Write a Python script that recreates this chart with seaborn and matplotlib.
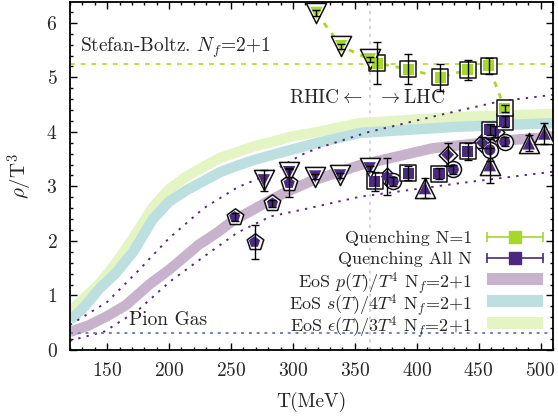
import numpy as np
import pandas as pd
import matplotlib
matplotlib.use("Agg")
import matplotlib.pyplot as plt
import seaborn as sns
from matplotlib.patches import Rectangle
from matplotlib.ticker import MultipleLocator

# lattice EoS bands
p_T = [120, 135, 150, 165, 184, 200, 211, 224, 238, 251, 262, 282, 295, 314, 354, 413, 470, 510]
p_val = [0.33, 0.45, 0.62, 0.82, 1.20, 1.47, 1.68, 1.93, 2.14, 2.36, 2.50, 2.75, 2.90, 3.09, 3.39, 3.70, 3.84, 3.91]

s_T = [120, 130, 144, 157, 171, 187, 200, 214, 228, 241, 255, 268, 282, 300, 320, 354, 430, 510]
s_val = [0.55, 0.75, 1.13, 1.41, 1.80, 2.40, 2.72, 2.93, 3.10, 3.26, 3.38, 3.48, 3.57, 3.68, 3.80, 3.98, 4.09, 4.16]

e_T = [120, 130, 144, 157, 171, 187, 200, 214, 228, 241, 255, 268, 282, 300, 320, 354, 430, 510]
e_val = [0.70, 0.92, 1.22, 1.59, 2.05, 2.62, 2.95, 3.18, 3.36, 3.52, 3.63, 3.73, 3.81, 3.92, 4.00, 4.16, 4.27, 4.33]

# dotted guide curves
up_T = [120, 150, 175, 200, 228, 255, 276, 307, 320, 360, 413, 467, 510]
up_val = [0.46, 0.88, 1.45, 2.05, 2.60, 2.98, 3.18, 3.58, 3.70, 3.99, 4.28, 4.56, 4.68]
lo_T = [120, 148, 175, 201, 228, 255, 282, 309, 354, 435, 510]
lo_val = [0.17, 0.34, 0.73, 1.26, 1.71, 2.15, 2.45, 2.58, 2.81, 3.06, 3.27]

sb_level = 5.25
pion_level = 0.32
rhic_lhc_T = 362

# Quenching N=1
n1_T = [319, 339, 362, 368, 393, 419, 441, 458, 471]
n1_val = [6.18, 5.57, 5.33, 5.26, 5.15, 5.00, 5.14, 5.21, 4.43]
n1_err = [0.05, 0.05, 0.05, 0.38, 0.27, 0.25, 0.18, 0.14, 0.07]
n1_mark = ['v', 'v', 'v', 's', 's', 's', 's', 's', 's']

# Quenching All N
all_T = [253, 269, 283.5, 276.5, 297, 297, 318, 338, 362, 366, 376, 381, 393, 406.6,
         418, 429.5, 425, 441, 453, 459, 459, 459, 463, 471, 471, 490.5, 503]
all_val = [2.44, 1.98, 2.69, 3.11, 3.06, 3.26, 3.18, 3.20, 3.33, 3.09, 3.18, 3.09, 3.24, 2.97,
           3.23, 3.31, 3.58, 3.64, 3.80, 3.39, 3.67, 4.04, 4.00, 4.19, 3.82, 3.79, 3.97]
all_err = [0.08, 0.32, 0.06, 0.19, 0.25, 0.08, 0.05, 0.05, 0.05, 0.17, 0.34, 0.08, 0.13, 0.18,
           0.10, 0.08, 0.21, 0.15, 0.10, 0.32, 0.20, 0.10, 0.10, 0.10, 0.08, 0.15, 0.20]
all_mark = ['p', 'p', 'p', 'v', 'p', 'v', 'v', 'v', 'v', 's', 'D', 'o', 's', '^',
            's', 'o', 'D', 's', 'D', '^', 'o', 's', 'D', 's', 'o', '^', '^']

legend_labels = ['Quenching N=1', 'Quenching All N',
                 r'EoS $p(T)/T^4$ N$_f$=2+1',
                 r'EoS $s(T)/4T^4$ N$_f$=2+1',
                 r'EoS $\epsilon(T)/3T^4$ N$_f$=2+1']

GREEN = '#a6d72c'
PURPLE = '#4a2a7e'
BAND_P = '#c8b3cd'
BAND_S = '#bcdfe0'
BAND_E = '#e5f4c3'
DOT_PURPLE = '#5a2488'
PION = '#7380b5'

outer_size = {'s': 11.5, 'v': 14.5, '^': 14.5, 'p': 12.5, 'o': 11.5, 'D': 9.5}
inner_size = {'s': 8, 'v': 9, '^': 9, 'p': 8.5, 'o': 8, 'D': 6.5}

sns.set_theme(style="ticks")
plt.rcParams['font.family'] = ['cmr10', 'DejaVu Serif']
plt.rcParams['mathtext.fontset'] = 'cm'
plt.rcParams['axes.formatter.use_mathtext'] = True
plt.rcParams['axes.unicode_minus'] = False
FS = 14

fig, ax = plt.subplots(figsize=(5.58, 4.17), dpi=100)
fig.subplots_adjust(left=0.1254, right=0.991, bottom=0.1607, top=0.995)

band_lw = 7.5
sns.lineplot(x=e_T, y=e_val, ax=ax, color=BAND_E, lw=band_lw, solid_capstyle='butt', zorder=1)
sns.lineplot(x=s_T, y=s_val, ax=ax, color=BAND_S, lw=band_lw, solid_capstyle='butt', zorder=1.1)
sns.lineplot(x=p_T, y=p_val, ax=ax, color=BAND_P, lw=band_lw, solid_capstyle='butt', zorder=1.2)

sns.lineplot(x=up_T, y=up_val, ax=ax, color=DOT_PURPLE, lw=1.4, ls=(0, (1.2, 3.2)), zorder=2)
sns.lineplot(x=lo_T, y=lo_val, ax=ax, color=DOT_PURPLE, lw=1.4, ls=(0, (1.2, 3.2)), zorder=2)

ax.axhline(sb_level, color='#b8e04a', lw=1.4, ls=(0, (2.5, 3)), zorder=2)
ax.axhline(pion_level, color=PION, lw=1.4, ls=(0, (1.5, 2.5)), zorder=2)
ax.axvline(rhic_lhc_T, color='#c8c8c8', lw=1.1, ls=(0, (2, 3)), zorder=0.5)

# green connecting line for N=1
sns.lineplot(x=n1_T, y=n1_val, ax=ax, color=GREEN, lw=2.0, ls=(0, (2, 2.5)),
             sort=False, zorder=3)


def draw_points(T, val, err, marks, color):
    df = pd.DataFrame({'T': T, 'v': val, 'err': err, 'm': marks})
    for m, g in df.groupby('m'):
        ax.scatter(g['T'], g['v'], marker=m, s=outer_size[m] ** 2, facecolor='white',
                   edgecolor='#111111', linewidth=1.1, zorder=4)
        ax.scatter(g['T'], g['v'], marker=m, s=inner_size[m] ** 2, facecolor=color,
                   edgecolor='none', zorder=5)
    ax.errorbar(df['T'], df['v'], yerr=df['err'], fmt='none', ecolor='black',
                elinewidth=1.0, capsize=3, capthick=1.0, zorder=6)


draw_points(all_T, all_val, all_err, all_mark, PURPLE)
draw_points(n1_T, n1_val, n1_err, n1_mark, GREEN)

ax.set_xlim(120, 510)
ax.set_ylim(0, 6.38)
ax.xaxis.set_major_locator(MultipleLocator(50))
ax.xaxis.set_minor_locator(MultipleLocator(10))
ax.yaxis.set_major_locator(MultipleLocator(1))
ax.yaxis.set_minor_locator(MultipleLocator(0.2))
ax.tick_params(which='both', direction='in', top=True, right=True, labelsize=FS,
               color='black', width=1.0)
ax.tick_params(which='major', length=5)
ax.tick_params(which='minor', length=2.5)
ax.tick_params(axis='y', pad=9)
ax.tick_params(axis='x', pad=9)
for sp in ax.spines.values():
    sp.set_linewidth(1.3)
    sp.set_color('black')

ax.set_xlabel('T(MeV)', fontsize=FS, labelpad=8)
ax.set_ylabel(r'$\rho$/T$^3$', fontsize=FS + 1)
ax.yaxis.set_label_coords(-0.072, 0.5)

ax.text(128, 5.55, r'Stefan-Boltz. $N_f$=2+1', fontsize=FS, ha='left', va='center')
ax.text(168, 0.55, 'Pion Gas', fontsize=FS, ha='left', va='center')
ax.text(356, 4.62, r'RHIC$\leftarrow$', fontsize=FS, ha='right', va='center')
ax.text(368, 4.62, r'$\rightarrow$LHC', fontsize=FS, ha='left', va='center')

# key, gnuplot style: text right-aligned, sample on the right
row_px = [237.3, 258.3, 279.0, 301.0, 323.0]
row_y = [(350 - r) / 348 for r in row_px]
row_fs = [13, 13, 13, 13, 13]
h0, h1, txt_x = 0.8634, 0.9793, 0.8323
tr = ax.transAxes
for i, (lab, y) in enumerate(zip(legend_labels, row_y)):
    ax.text(txt_x, y, lab, transform=tr, fontsize=row_fs[i], ha='right',
            va='center_baseline')
    if i < 2:
        c = [GREEN, PURPLE][i]
        ax.plot([h0, h1], [y, y], transform=tr, color=c, lw=1.2, clip_on=False, zorder=7)
        ax.plot([h0, h1], [y, y], transform=tr, color=c, ls='none', marker='|',
                markersize=7, markeredgewidth=1.2, clip_on=False, zorder=7)
        ax.plot([(h0 + h1) / 2], [y], transform=tr, color=c, marker='s', markersize=8,
                ls='none', clip_on=False, zorder=8)
    else:
        c = [BAND_P, BAND_S, BAND_E][i - 2]
        ax.add_patch(Rectangle((h0, y - 0.016), h1 - h0, 0.032, transform=tr,
                               facecolor=c, edgecolor='none', zorder=7))

fig.savefig('out.png', dpi=100)
